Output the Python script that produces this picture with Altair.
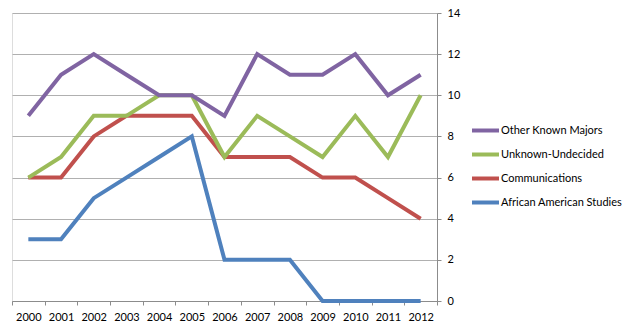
import altair as alt
import pandas as pd

years = list(range(2000, 2013))
other_known = [9, 11, 12, 11, 10, 10, 9, 12, 11, 11, 12, 10, 11]
unknown = [6, 7, 9, 9, 10, 10, 7, 9, 8, 7, 9, 7, 10]
communications = [6, 6, 8, 9, 9, 9, 7, 7, 7, 6, 6, 5, 4]
african_american = [3, 3, 5, 6, 7, 8, 2, 2, 2, 0, 0, 0, 0]

legend_order = ["Other Known Majors", "Unknown-Undecided", "Communications", "African American Studies"]
colors = ["#8064A2", "#9BBB59", "#C0504D", "#4F81BD"]

# draw order: blue first, purple on top
series = [
    ("African American Studies", african_american),
    ("Communications", communications),
    ("Unknown-Undecided", unknown),
    ("Other Known Majors", other_known),
]
rows = []
for name, vals in series:
    for y, v in zip(years, vals):
        rows.append({"Year": y, "Count": v, "Series": name})
df = pd.DataFrame(rows)

x_vals = [y - 0.5 for y in years] + years + [years[-1] + 0.5]
font = "Lato"

chart = alt.Chart(df).mark_line(strokeWidth=4).encode(
    x=alt.X("Year:Q",
            scale=alt.Scale(domain=[1999.5, 2012.5], nice=False, zero=False),
            axis=alt.Axis(values=x_vals, title=None, grid=False,
                          labelExpr="datum.value % 1 == 0 ? format(datum.value, 'd') : ''",
                          labelOverlap=False, labelFlush=False,
                          tickOpacity={"condition": {"test": "datum.value % 1 == 0", "value": 0}, "value": 1},
                          tickSize=4, labelPadding=6, domainColor="#8C8C8C", tickColor="#8C8C8C",
                          labelFont=font, labelFontSize=11, labelColor="#000000")),
    y=alt.Y("Count:Q",
            scale=alt.Scale(domain=[0, 14], nice=False),
            axis=alt.Axis(orient="right", values=list(range(0, 15, 2)), title=None,
                          grid=True, gridColor="#B0B0B0", gridWidth=1,
                          tickSize=4, labelPadding=6, domainColor="#8C8C8C", tickColor="#8C8C8C",
                          labelFont=font, labelFontSize=11, labelColor="#000000")),
    color=alt.Color("Series:N",
                    scale=alt.Scale(domain=legend_order, range=colors),
                    legend=alt.Legend(title=None, orient="none", legendX=458, legendY=102,
                                      symbolType="stroke", symbolStrokeWidth=4, symbolSize=729,
                                      labelOffset=0, rowPadding=-3, padding=0,
                                      labelFont=font, labelFontSize=11, labelColor="#000000")),
).properties(
    width=425, height=288,
    autosize=alt.AutoSizeParams(type="none"),
    padding={"left": 12, "top": 13, "right": 196, "bottom": 27},
).configure_view(stroke=None).configure(background="white")

chart.save("out.html", embed_options={"renderer": "svg", "actions": False})
